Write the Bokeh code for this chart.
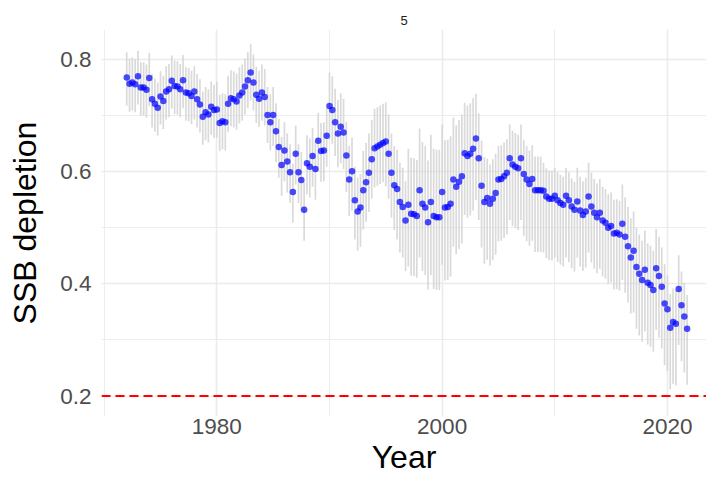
from bokeh.plotting import figure
from bokeh.models import FixedTicker, Span, ColumnDataSource, Range1d
from bokeh.embed import file_html
from bokeh.resources import INLINE

title_text = "5"
x_label = "Year"
y_label = "SSB depletion"
first_year = 1972
steps_per_year = 4

# SSB depletion, quarterly, 1972-2021 (4 values per year)
ssb = [
    0.768, 0.757, 0.759, 0.756,  # 1972
    0.770, 0.750, 0.750, 0.746,  # 1973
    0.767, 0.729, 0.721, 0.714,  # 1974
    0.734, 0.726, 0.743, 0.747,  # 1975
    0.762, 0.753, 0.752, 0.747,  # 1976
    0.763, 0.741, 0.740, 0.735,  # 1977
    0.743, 0.729, 0.720, 0.698,  # 1978
    0.706, 0.702, 0.716, 0.710,  # 1979
    0.711, 0.687, 0.690, 0.688,  # 1980
    0.721, 0.731, 0.729, 0.725,  # 1981
    0.736, 0.741, 0.752, 0.763,  # 1982
    0.777, 0.759, 0.737, 0.730,  # 1983
    0.741, 0.733, 0.701, 0.688,  # 1984
    0.701, 0.672, 0.644, 0.612,  # 1985
    0.638, 0.618, 0.599, 0.564,  # 1986
    0.632, 0.599, 0.585, 0.532,  # 1987
    0.615, 0.609, 0.628, 0.605,  # 1988
    0.655, 0.637, 0.638, 0.664,  # 1989
    0.717, 0.710, 0.688, 0.668,  # 1990
    0.680, 0.670, 0.629, 0.586,  # 1991
    0.601, 0.549, 0.529, 0.536,  # 1992
    0.567, 0.581, 0.598, 0.622,  # 1993
    0.642, 0.645, 0.648, 0.651,  # 1994
    0.654, 0.632, 0.598, 0.576,  # 1995
    0.569, 0.546, 0.537, 0.513,  # 1996
    0.541, 0.525, 0.524, 0.521,  # 1997
    0.567, 0.543, 0.536, 0.510,  # 1998
    0.546, 0.521, 0.519, 0.519,  # 1999
    0.564, 0.536, 0.537, 0.543,  # 2000
    0.586, 0.573, 0.582, 0.592,  # 2001
    0.633, 0.628, 0.632, 0.641,  # 2002
    0.659, 0.624, 0.575, 0.546,  # 2003
    0.553, 0.543, 0.552, 0.562,  # 2004
    0.586, 0.587, 0.592, 0.598,  # 2005
    0.624, 0.613, 0.609, 0.606,  # 2006
    0.624, 0.596, 0.586, 0.578,  # 2007
    0.587, 0.567, 0.567, 0.567,  # 2008
    0.566, 0.556, 0.552, 0.552,  # 2009
    0.557, 0.549, 0.544, 0.541,  # 2010
    0.557, 0.549, 0.538, 0.532,  # 2011
    0.547, 0.531, 0.523, 0.529,  # 2012
    0.556, 0.538, 0.527, 0.519,  # 2013
    0.527, 0.513, 0.509, 0.500,  # 2014
    0.503, 0.490, 0.491, 0.488,  # 2015
    0.507, 0.484, 0.467, 0.447,  # 2016
    0.459, 0.430, 0.418, 0.407,  # 2017
    0.425, 0.402, 0.398, 0.389,  # 2018
    0.428, 0.414, 0.395, 0.365,  # 2019
    0.355, 0.322, 0.332, 0.329,  # 2020
    0.391, 0.362, 0.342, 0.320,  # 2021
]

# Interval half-widths above / below the point, read per year (1972-2021)
upper_width = [
    0.045, 0.045, 0.045, 0.045, 0.045, 0.045, 0.045, 0.045,
    0.05, 0.05, 0.05, 0.05, 0.05,
    0.05, 0.05, 0.05, 0.05, 0.05,
    0.06, 0.06, 0.06,
    0.07, 0.07, 0.07, 0.07,
    0.10, 0.11, 0.12, 0.12, 0.11, 0.09,
    0.08, 0.07, 0.06, 0.06, 0.06, 0.06,
    0.05, 0.05, 0.05, 0.06, 0.06, 0.06, 0.06,
    0.07, 0.07, 0.07, 0.07, 0.06, 0.06,
]
lower_width = [
    0.05, 0.05, 0.05, 0.05, 0.05, 0.05, 0.05, 0.05,
    0.05, 0.05, 0.05, 0.05, 0.05,
    0.055, 0.055, 0.055, 0.055, 0.055,
    0.06, 0.065, 0.07,
    0.07, 0.07, 0.08, 0.09,
    0.11, 0.12, 0.13, 0.13, 0.12, 0.11,
    0.11, 0.11, 0.11, 0.11, 0.11, 0.11,
    0.11, 0.11, 0.11, 0.10, 0.10, 0.10, 0.10,
    0.10, 0.11, 0.11, 0.11, 0.11, 0.10,
]

limit_ref = 0.2
y_major = [0.2, 0.4, 0.6, 0.8]
y_minor = [0.3, 0.5, 0.7]
x_major = [1980, 2000, 2020]
x_minor = [1970, 1990, 2010]

years = [first_year + i / steps_per_year for i in range(len(ssb))]
upper = [v + upper_width[i // steps_per_year] for i, v in enumerate(ssb)]
lower = [v - lower_width[i // steps_per_year] for i, v in enumerate(ssb)]

src = ColumnDataSource(dict(year=years, ssb=ssb, lo=lower, hi=upper))

p = figure(width=706, height=478, output_backend="svg", toolbar_location=None,
           x_range=Range1d(1969.76, 2023.47), y_range=Range1d(0.1636, 0.8535),
           min_border_left=101, min_border_right=0, min_border_top=29,
           min_border_bottom=62, title=title_text)

p.title.align = "center"
p.title.text_font = "Liberation Sans"
p.title.text_font_size = "13px"
p.title.text_font_style = "normal"
p.title.text_color = "#1a1a1a"

p.outline_line_color = None
p.background_fill_color = "white"
p.border_fill_color = "white"

for ax in (p.xaxis[0], p.yaxis[0]):
    ax.axis_line_color = None
    ax.major_tick_line_color = None
    ax.minor_tick_line_color = None
    ax.major_tick_out = 0
    ax.major_tick_in = 0
    ax.minor_tick_out = 0
    ax.minor_tick_in = 0
    ax.major_label_text_font = "Liberation Sans"
    ax.major_label_text_font_size = "22.5px"
    ax.major_label_text_color = "#4d4d4d"
    ax.axis_label_text_font = "Liberation Sans"
    ax.axis_label_text_font_size = "32px"
    ax.axis_label_text_font_style = "normal"
    ax.axis_label_text_color = "black"

p.xaxis.axis_label = x_label
p.yaxis.axis_label = y_label
p.xaxis.ticker = FixedTicker(ticks=x_major, minor_ticks=x_minor)
p.yaxis.ticker = FixedTicker(ticks=y_major, minor_ticks=y_minor)
p.xaxis.major_label_standoff = 2
p.yaxis.major_label_standoff = 10
p.xaxis.axis_label_standoff = 2
p.yaxis.axis_label_standoff = 14

p.xgrid.grid_line_color = "#ebebeb"
p.ygrid.grid_line_color = "#ebebeb"
p.xgrid.grid_line_width = 1.6
p.ygrid.grid_line_width = 1.6
p.xgrid.minor_grid_line_color = "#ebebeb"
p.ygrid.minor_grid_line_color = "#ebebeb"
p.xgrid.minor_grid_line_width = 0.9
p.ygrid.minor_grid_line_width = 0.9

p.segment(x0="year", y0="lo", x1="year", y1="hi", source=src,
          line_color="#d3d3d3", line_width=1.7, line_alpha=0.85)

p.add_layout(Span(location=limit_ref, dimension="width", line_color="red",
                  line_dash="9 5", line_width=2))

p.scatter(x="year", y="ssb", source=src, size=6.5, fill_color="blue",
          fill_alpha=0.7, line_color=None)

open("out.html", "w").write(file_html(p, INLINE))
